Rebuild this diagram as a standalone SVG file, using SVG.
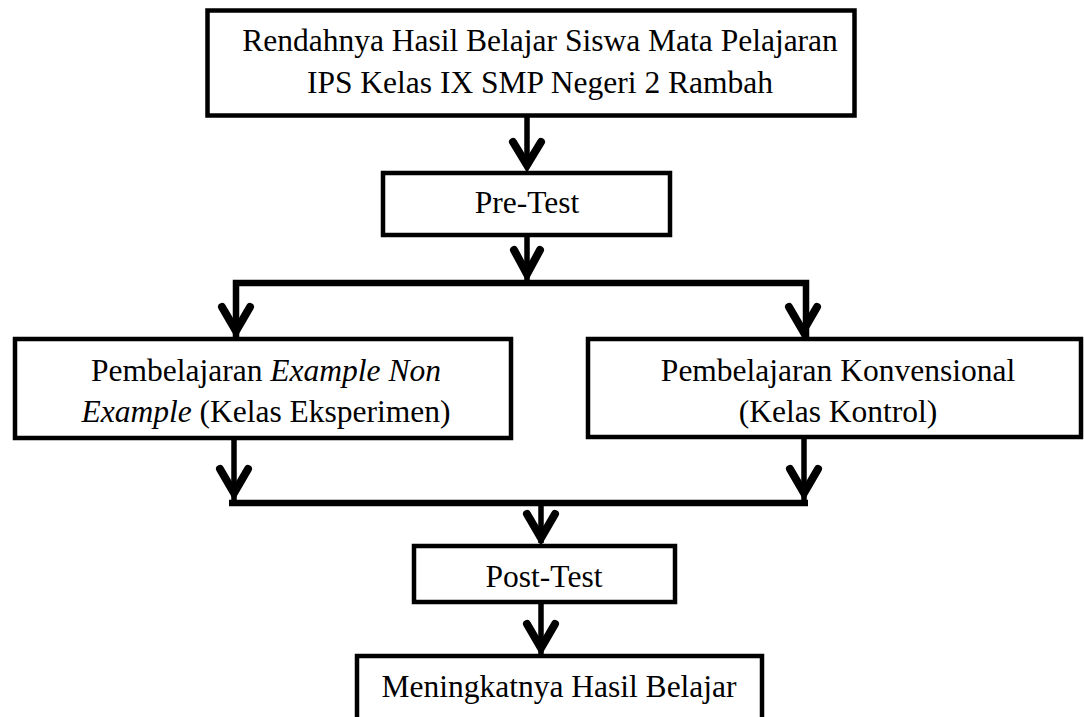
<svg xmlns="http://www.w3.org/2000/svg" width="1084" height="717" viewBox="0 0 1084 717">
<style>
.box{fill:#fff;stroke:#000;stroke-width:4.5}
.t{font-family:"Liberation Serif","Times New Roman",serif;font-size:31.5px;fill:#000;text-anchor:middle}
.i{font-style:italic}
.shaft{fill:none;stroke:#000;stroke-width:5.5}
.bar{fill:none;stroke:#000;stroke-width:6.5}
.head{fill:none;stroke:#000;stroke-width:8;stroke-linecap:round;stroke-linejoin:miter;stroke-miterlimit:10}
</style>
<rect width="1084" height="717" fill="#fff"/>
<g id="connectors">
  <line class="shaft" x1="527" y1="117" x2="527" y2="166"/>
  <path class="head" d="M513,142 L527,165 L541,142"/>
  <line class="shaft" x1="527" y1="236" x2="527" y2="280"/>
  <path class="head" d="M514,250 L527,274 L540,250"/>
  <path class="bar" d="M236,338 V283 H806 V338"/>
  <path class="head" d="M222,307 L236,331 L250,307"/>
  <path class="head" d="M789,307 L803,331 L817,307"/>
  <line class="shaft" x1="234" y1="439" x2="234" y2="500"/>
  <line class="shaft" x1="804" y1="439" x2="804" y2="500"/>
  <path class="head" d="M220,469 L234,493 L248,469"/>
  <path class="head" d="M790,469 L804,493 L818,469"/>
  <line class="bar" x1="229" y1="503" x2="808" y2="503"/>
  <line class="shaft" x1="541" y1="503" x2="541" y2="543"/>
  <path class="head" d="M527,514 L541,538 L555,514"/>
  <line class="shaft" x1="541" y1="602" x2="541" y2="654"/>
  <path class="head" d="M527,624 L541,648 L555,624"/>
</g>
<g id="n1">
  <rect class="box" x="207.5" y="10.5" width="647" height="105"/>
  <text class="t" x="540" y="51">Rendahnya Hasil Belajar Siswa Mata Pelajaran</text>
  <text class="t" x="540" y="93">IPS Kelas IX SMP Negeri 2 Rambah</text>
</g>
<g id="n2">
  <rect class="box" x="383" y="173" width="287" height="62"/>
  <text class="t" x="527" y="213">Pre-Test</text>
</g>
<g id="n3">
  <rect class="box" x="15" y="339" width="496" height="99"/>
  <text class="t" x="266" y="381">Pembelajaran <tspan class="i">Example Non</tspan></text>
  <text class="t" x="266" y="422"><tspan class="i">Example</tspan> (Kelas Eksperimen)</text>
</g>
<g id="n4">
  <rect class="box" x="588" y="339" width="493" height="98"/>
  <text class="t" x="838" y="381">Pembelajaran Konvensional</text>
  <text class="t" x="838" y="422">(Kelas Kontrol)</text>
</g>
<g id="n5">
  <rect class="box" x="414" y="546" width="261" height="56"/>
  <text class="t" x="544" y="587">Post-Test</text>
</g>
<g id="n6">
  <rect class="box" x="357" y="656" width="405" height="70"/>
  <text class="t" x="559" y="697">Meningkatnya Hasil Belajar</text>
</g>
</svg>
